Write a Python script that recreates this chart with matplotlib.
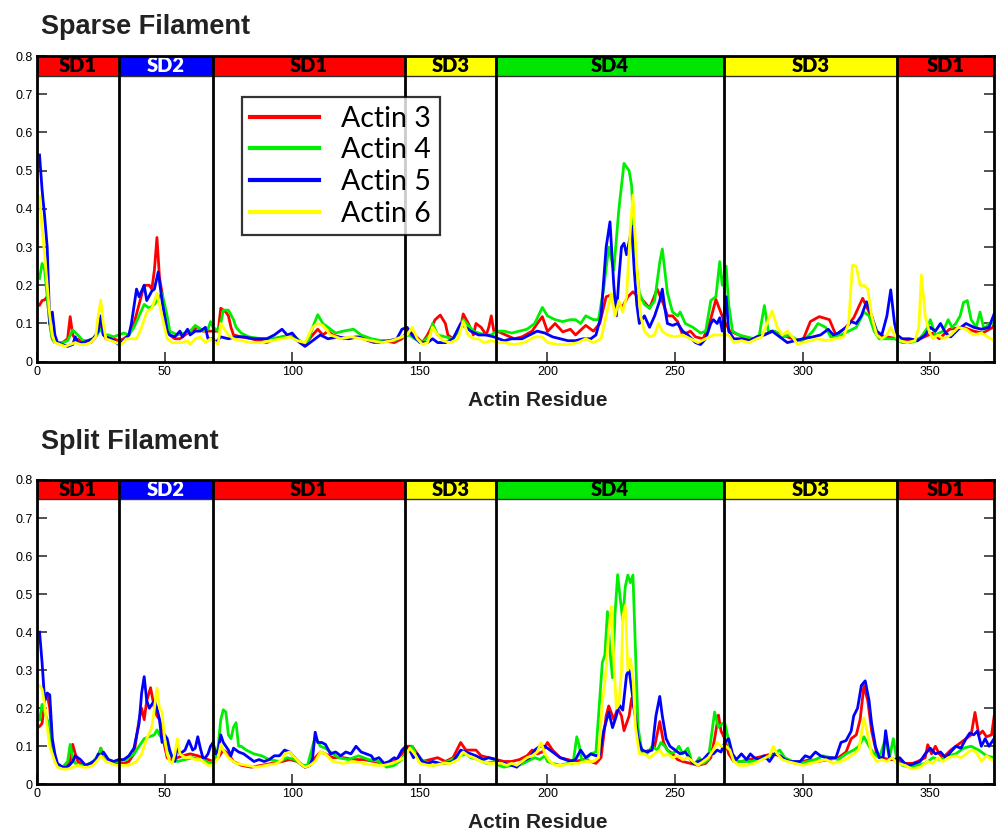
import matplotlib
matplotlib.use("Agg")
import matplotlib.pyplot as plt
from matplotlib.patches import Rectangle

# subdomain bands along the actin sequence
DOMAIN_NAMES = ["SD1", "SD2", "SD1", "SD3", "SD4", "SD3", "SD1"]
DOMAIN_EDGES = [0, 32, 69, 144, 180, 269, 337, 375]
DOMAIN_COLORS = ["#ff0000", "#0000ff", "#ff0000", "#ffff00", "#00e600", "#ffff00", "#ff0000"]
DOMAIN_TEXT = ["black", "white", "black", "black", "black", "black", "black"]

SERIES_NAMES = ["Actin 3", "Actin 4", "Actin 5", "Actin 6"]
SERIES_COLORS = ["#ff0000", "#00ee00", "#0000ff", "#ffff00"]

# (residue, value)
SPARSE_A3 = [(1, .148), (2, .16), (3, .162), (4, .17), (5, .10), (6, .06), (7, .05), (10, .05), (12, .06),
             (13, .118), (14, .07), (15, .06), (18, .055), (21, .05), (23, .065), (25, .09), (27, .06), (30, .06),
             (32, .055), (34, .06), (36, .07), (38, .10), (40, .15), (42, .20), (44, .20), (45, .19), (46, .24),
             (47, .325), (48, .22), (49, .18), (50, .12), (52, .07), (54, .06), (56, .06), (58, .07), (60, .08),
             (63, .09), (65, .08), (67, .08), (69, .08), (71, .08), (72, .14), (74, .13), (75, .12), (76, .09),
             (77, .07), (80, .065), (84, .06), (90, .05), (93, .06), (96, .065), (99, .07), (101, .06), (103, .05),
             (105, .045), (108, .07), (110, .085), (112, .07), (114, .08), (116, .07), (120, .06), (125, .065),
             (128, .06), (132, .05), (136, .055), (140, .05), (143, .06), (145, .08), (148, .07), (151, .05),
             (153, .07), (156, .11), (158, .122), (160, .10), (161, .07), (163, .06), (166, .09), (167, .125),
             (169, .10), (171, .07), (172, .10), (174, .09), (176, .07), (177, .09), (178, .12), (179, .08),
             (181, .078), (187, .06), (190, .065), (194, .08), (196, .10), (198, .118), (200, .079), (203, .10),
             (206, .078), (209, .085), (211, .07), (215, .095), (218, .08), (220.5, .10), (223, .17), (225, .175),
             (227, .15), (229.5, .145), (231.5, .17), (233.5, .183), (235.5, .17), (237.5, .16), (240, .14),
             (243, .19), (245.5, .15), (247, .12), (249, .12), (251, .105), (253, .07), (256, .08), (258, .065),
             (261, .06), (263.5, .10), (266, .163), (269, .11), (271.5, .08), (275, .07), (278, .06), (282, .06),
             (284.5, .07), (288.5, .08), (292, .07), (296, .06), (300, .055), (303, .105), (306.5, .118),
             (310.5, .11), (313, .07), (317, .09), (320, .115), (323.5, .166), (326, .13), (329, .07),
             (333, .065), (337, .06), (340.5, .055), (346, .06), (351, .075), (353.5, .06), (357.5, .085),
             (363, .09), (367, .08), (370.5, .075), (374.5, .09), (375, .10)]
SPARSE_A4 = [(1, .218), (2, .257), (3, .24), (4, .17), (5, .10), (6, .06), (7, .05), (10, .05), (12, .055),
             (14, .083), (16, .07), (18, .055), (20, .055), (23, .065), (25, .087), (26, .07), (28, .07),
             (30, .065), (32, .07), (34, .075), (36, .07), (38, .09), (40, .12), (42, .15), (44, .14), (46, .15),
             (48, .17), (49, .18), (51, .12), (52, .08), (55, .07), (58, .075), (60, .08), (62, .095), (65, .08),
             (67, .085), (68, .105), (69, .09), (71, .08), (72, .10), (73, .135), (75, .135), (77, .11), (78, .09),
             (80, .075), (83, .065), (88, .06), (92, .06), (96, .065), (100, .07), (104, .05), (106, .05),
             (108, .09), (110, .123), (112, .10), (114, .09), (117, .075), (120, .08), (124, .085), (127, .07),
             (131, .06), (135, .055), (140, .055), (143, .065), (146, .07), (148, .06), (151, .05), (154, .07),
             (155, .10), (157, .07), (160, .065), (163, .06), (165, .08), (167, .11), (169, .095), (171, .08),
             (173, .075), (176, .07), (178, .07), (180, .08), (183, .08), (186, .075), (189, .08), (192, .085),
             (195, .10), (198, .142), (200, .12), (203, .11), (206, .105), (209, .11), (211, .11), (213, .10),
             (215, .12), (218, .11), (220, .11), (222, .19), (224, .30), (226, .24), (228, .40), (230, .519),
             (232, .50), (233, .46), (234, .30), (236, .18), (238, .15), (240, .14), (242, .16), (244, .26),
             (245, .295), (247, .18), (249, .13), (251, .12), (252, .13), (254, .10), (257, .09), (260, .075),
             (262, .08), (264, .16), (266, .17), (267.5, .262), (268.5, .20), (270, .25), (271, .15),
             (272.5, .08), (275, .07), (278, .065), (281, .06), (283, .07), (285, .147), (286.5, .08), (289, .08),
             (292, .065), (295, .07), (298, .055), (301, .06), (304, .08), (306, .10), (309, .09), (311, .065),
             (315, .07), (318, .08), (321, .09), (324, .13), (326, .12), (328, .08), (330, .06), (333, .06),
             (336, .06), (339, .05), (342, .05), (345, .055), (347, .07), (349, .09), (350, .11), (352, .07),
             (355, .08), (357, .11), (358.5, .09), (360, .10), (361.7, .12), (363, .155), (364.5, .16),
             (366, .11), (368, .09), (369.5, .13), (371, .085), (373, .10), (375, .10)]
SPARSE_A5 = [(1, .541), (2, .45), (3, .38), (4, .30), (5, .10), (6, .13), (7, .07), (8, .05), (10, .045),
             (12, .04), (14, .045), (15, .065), (16, .05), (18, .05), (20, .055), (22, .06), (24, .08), (25, .12),
             (26, .07), (27, .065), (29, .06), (31, .05), (32, .045), (34, .055), (36, .07), (37, .10), (39, .19),
             (40, .17), (42, .20), (43, .16), (45, .185), (46, .19), (47.5, .235), (49, .16), (51, .08), (52, .07),
             (54, .065), (56, .08), (57, .065), (59, .085), (60, .07), (62, .08), (64, .08), (66, .09), (67, .06),
             (69, .06), (70, .05), (72, .065), (75, .06), (78, .065), (81, .065), (85, .06), (90, .06), (93, .07),
             (96, .085), (98, .07), (100, .075), (103, .05), (105, .04), (107, .05), (109, .06), (111, .07),
             (114, .06), (118, .065), (122, .06), (126, .065), (130, .055), (134, .05), (138, .055), (141, .06),
             (143, .085), (145, .09), (147, .07), (150, .05), (153, .05), (155, .06), (157, .05), (160, .05),
             (163, .06), (166, .10), (168, .09), (170, .08), (173, .07), (176, .07), (179, .065), (181, .06),
             (183, .055), (186, .06), (190, .06), (193, .07), (196, .08), (199, .075), (202, .065), (205, .06),
             (208, .055), (211, .055), (214, .06), (217, .06), (219, .07), (221, .12), (223, .30), (224.5, .366),
             (226, .20), (227, .12), (228, .22), (229, .30), (230, .31), (231, .28), (232.5, .33), (233, .355),
             (234, .24), (235, .15), (236, .10), (238, .12), (240, .09), (242, .12), (244, .16), (245, .19),
             (246, .14), (247, .10), (249, .095), (251, .10), (253, .08), (255, .07), (258, .05), (260, .045),
             (262, .06), (264, .10), (265, .11), (266.5, .10), (267.5, .115), (268.5, .08), (270, .17), (271, .08),
             (273, .06), (276, .06), (279, .055), (282, .065), (285, .07), (288, .08), (290, .07), (292, .06),
             (294, .05), (297, .055), (300, .06), (304, .065), (307, .07), (310, .085), (312, .07), (314, .075),
             (317, .09), (319, .105), (321, .10), (323, .12), (325, .157), (327, .12), (329, .08), (331, .07),
             (333, .12), (334.5, .188), (336, .10), (337, .07), (339, .06), (342, .06), (345, .055), (348, .07),
             (350, .09), (352, .08), (354, .10), (356, .075), (358, .065), (361, .085), (364, .10), (367, .09),
             (370, .085), (373, .09), (375, .125)]
SPARSE_A6 = [(1, .432), (2, .35), (3, .28), (4, .20), (5, .12), (6, .07), (7, .05), (9, .045), (11, .04),
             (13, .045), (15, .05), (17, .045), (19, .045), (21, .05), (23, .065), (24, .12), (25, .161),
             (26, .10), (27, .06), (29, .055), (31, .05), (33, .045), (35, .06), (37, .06), (39, .06), (41, .09),
             (43, .13), (45, .14), (47, .179), (48, .15), (49, .12), (50, .09), (51, .06), (53, .05), (55, .05),
             (57, .05), (59, .055), (60, .045), (62, .06), (64, .065), (66, .05), (68, .06), (70, .05), (71, .045),
             (72, .10), (73, .09), (75, .07), (77, .06), (80, .055), (84, .05), (88, .05), (92, .055), (96, .06),
             (99, .065), (102, .055), (105, .05), (108, .09), (110, .10), (112, .095), (115, .07), (119, .06),
             (123, .065), (127, .06), (131, .055), (135, .05), (139, .055), (143, .065), (145, .07), (147, .09),
             (149, .06), (151, .045), (153, .05), (155, .09), (157, .07), (159, .055), (162, .05), (165, .06),
             (167, .105), (169, .07), (171, .06), (173, .06), (175, .05), (178, .055), (181, .05), (183, .05),
             (187, .045), (191, .05), (195, .065), (198, .065), (200, .05), (204, .045), (208, .045), (212, .05),
             (215, .06), (218, .05), (221, .06), (223, .12), (225, .179), (226.5, .12), (228, .16), (229.5, .13),
             (231, .17), (232.5, .35), (233.5, .436), (235, .25), (236.5, .12), (238, .08), (240, .065),
             (242, .07), (243.5, .10), (245, .08), (247, .07), (250, .065), (253, .07), (256, .06), (259, .05),
             (262, .06), (265, .07), (268, .07), (271, .07), (273, .05), (276, .055), (279, .05), (282, .06),
             (284, .065), (286, .10), (288, .133), (290, .09), (292, .07), (294, .08), (296, .065), (298, .045),
             (300, .05), (303, .055), (306, .06), (309, .055), (313, .06), (316, .065), (318, .10), (319.5, .253),
             (321, .25), (322.5, .20), (324, .20), (325.5, .19), (327, .12), (329, .07), (331, .06), (333, .07),
             (334.5, .09), (336, .07), (338, .055), (341, .05), (344, .055), (345.5, .09), (346.5, .227),
             (348, .12), (349.5, .08), (351, .06), (353, .07), (355, .06), (358, .07), (361, .09), (364, .085),
             (367, .07), (370, .075), (372.5, .065), (375, .055)]

# (residue, value)
SPLIT_A3 = [(1, .152), (2, .16), (3, .22), (4, .235), (5, .20), (6, .10), (7, .07), (8, .05), (10, .045),
            (12, .05), (13, .06), (14, .105), (15, .08), (16, .06), (18, .05), (20, .05), (22, .055), (24, .07),
            (25, .095), (26, .07), (28, .06), (30, .055), (32, .055), (34, .055), (36, .06), (38, .08), (40, .17),
            (41, .20), (42, .17), (43, .22), (44.5, .254), (46, .20), (47, .18), (48, .17), (49, .15), (50, .10),
            (51, .07), (53, .06), (55, .07), (57, .075), (60, .08), (63, .075), (65, .07), (67, .065), (69, .06),
            (71, .07), (73, .09), (75, .08), (77, .06), (80, .05), (84, .045), (88, .05), (92, .055), (96, .06),
            (99, .065), (102, .06), (105, .045), (107, .05), (109, .07), (111, .085), (113, .08), (116, .07),
            (120, .07), (124, .065), (128, .065), (132, .06), (136, .055), (140, .06), (143, .08), (145, .10),
            (147, .10), (149, .08), (151, .06), (154, .065), (157, .07), (160, .06), (163, .07), (166, .11),
            (168, .09), (170, .09), (172, .09), (174, .075), (177, .07), (180, .065), (183, .06), (186, .06),
            (189, .065), (192, .075), (194, .09), (196, .08), (198, .085), (200, .11), (202, .09), (205, .07),
            (208, .065), (211, .06), (214, .065), (217, .06), (219, .055), (221, .07), (223, .18), (224, .206),
            (226, .17), (227.5, .20), (229, .18), (230, .141), (232, .18), (233, .226), (234.5, .18), (236, .10),
            (238, .085), (240, .09), (242, .10), (244, .165), (245.5, .11), (247, .09), (249, .08), (251, .065),
            (253, .06), (256, .055), (259, .05), (262, .055), (264, .07), (265.5, .12), (267, .182), (268, .14),
            (269.5, .12), (271, .08), (273, .06), (276, .06), (279, .065), (282, .07), (285, .075), (288, .08),
            (291, .075), (294, .065), (297, .055), (300, .06), (303, .065), (306, .06), (310, .065), (314, .07),
            (317, .085), (319, .12), (321, .13), (322.5, .17), (324, .259), (325.5, .22), (327, .14), (329, .08),
            (331, .07), (334, .065), (337, .065), (340, .055), (343, .055), (345, .06), (348, .07), (349, .104),
            (350.5, .08), (352, .10), (353.5, .08), (355, .07), (358, .09), (360, .10), (362, .11), (364, .12),
            (366, .13), (367.5, .189), (369, .13), (370.5, .14), (372, .125), (374, .13), (375, .178)]
SPLIT_A4 = [(1, .17), (2, .21), (3, .19), (4, .17), (5, .15), (6, .10), (7, .06), (8, .05), (10, .045),
            (12, .06), (13, .105), (14, .07), (15, .055), (17, .05), (19, .05), (22, .06), (24, .075), (25, .095),
            (26, .07), (28, .065), (30, .06), (32, .06), (35, .065), (38, .08), (40, .10), (42, .12), (44, .125),
            (46, .13), (47, .143), (48, .13), (49, .12), (51, .10), (53, .07), (55, .06), (58, .065), (61, .07),
            (64, .065), (66, .06), (68, .055), (70, .07), (71, .10), (72, .17), (73, .196), (74, .19), (75, .13),
            (76, .12), (77, .15), (78, .162), (79, .10), (80, .10), (82, .09), (85, .08), (88, .075), (91, .065),
            (95, .06), (98, .07), (101, .065), (104, .05), (106, .05), (108, .10), (109, .125), (111, .10),
            (113, .095), (115, .085), (118, .07), (122, .065), (126, .075), (130, .065), (134, .06), (137, .045),
            (140, .05), (143, .065), (145, .09), (147, .10), (149, .07), (152, .06), (155, .05), (158, .055),
            (161, .06), (164, .07), (166, .075), (168, .08), (170, .07), (173, .065), (176, .055), (179, .06),
            (181, .05), (183, .045), (186, .05), (189, .05), (192, .06), (195, .07), (197, .065), (199, .075),
            (200, .06), (202, .055), (205, .05), (208, .055), (210, .055), (211.5, .125), (212.5, .10),
            (213.5, .06), (215, .065), (217, .08), (219, .085), (220, .18), (221.5, .32), (222.5, .34),
            (223.5, .454), (224.5, .35), (225.5, .28), (226.5, .45), (227.5, .551), (228.5, .49), (229.5, .432),
            (230.5, .52), (231.5, .55), (232.5, .53), (233.5, .55), (234.5, .35), (235.5, .15), (237, .085),
            (239, .08), (241, .10), (243, .09), (244.5, .11), (246, .10), (248, .08), (250, .085), (251.5, .10),
            (253, .08), (255, .095), (256.5, .06), (258, .055), (259.5, .07), (261, .055), (263, .065),
            (265.5, .19), (267, .15), (268.5, .16), (269.5, .16), (270.5, .13), (272, .08), (274, .06), (277, .06),
            (280, .06), (283, .065), (286, .07), (288, .075), (291, .09), (293, .07), (296, .06), (299, .055),
            (302, .06), (305, .065), (308, .075), (311, .07), (314, .065), (317, .08), (320, .09), (322, .10),
            (324, .125), (326, .10), (328, .08), (330, .07), (332.5, .12), (334, .07), (335.5, .12), (337, .06),
            (339, .05), (342, .045), (345, .05), (348, .055), (351, .07), (354, .065), (357, .075), (360, .08),
            (363, .095), (366, .10), (369, .09), (372, .075), (375, .07)]
SPLIT_A5 = [(1, .40), (2, .32), (3, .22), (4, .24), (5, .235), (6, .12), (7, .08), (8, .055), (10, .045),
            (12, .045), (14, .06), (15, .075), (17, .065), (19, .05), (21, .055), (23, .065), (24, .08), (25, .075),
            (26, .085), (28, .065), (30, .06), (32, .065), (34, .065), (36, .075), (38, .095), (40, .16),
            (41, .24), (42, .283), (43, .22), (44, .20), (45, .21), (46, .22), (47, .20), (48, .17), (49, .11),
            (50, .13), (51, .12), (52, .09), (53, .07), (54, .06), (55, .10), (56, .08), (58, .09), (59.5, .115),
            (61, .09), (62, .095), (63, .125), (64, .095), (65, .07), (66, .07), (67, .08), (68, .10), (69, .11),
            (70, .08), (71, .09), (72, .13), (73, .11), (74, .10), (75, .09), (76, .075), (77, .095), (78, .09),
            (79, .085), (81, .08), (83, .07), (85, .06), (87, .065), (89, .06), (91, .065), (93, .075), (95, .075),
            (97, .09), (99, .085), (101, .07), (103, .055), (105, .045), (107, .05), (108, .07), (109, .137),
            (110, .11), (111.5, .11), (113, .105), (115, .08), (117, .085), (119, .075), (121, .085), (123, .08),
            (125, .10), (127, .085), (129, .08), (131, .075), (132, .065), (134, .07), (136, .055), (138, .06),
            (140, .07), (141, .065), (143, .09), (144.5, .10), (146, .09), (147.5, .07), (149, .08), (151, .06),
            (153, .055), (155, .06), (158, .055), (160, .055), (163, .06), (166, .09), (168, .085), (170, .08),
            (172, .075), (175, .065), (177, .07), (180, .065), (181, .055), (183, .055), (186, .05), (188, .045),
            (190, .06), (193, .07), (195, .09), (197, .10), (199, .10), (201, .09), (203, .08), (205, .07),
            (207, .065), (209, .06), (211, .065), (213, .09), (215, .07), (217, .08), (219, .075), (220.5, .08),
            (222, .14), (224, .19), (225.5, .149), (227, .18), (228, .21), (229.5, .195), (231, .288), (232, .30),
            (233, .25), (234, .20), (235.5, .12), (237, .09), (239, .085), (241, .09), (242.5, .18), (244, .231),
            (245, .18), (246.5, .12), (248, .10), (250, .09), (252, .08), (254, .085), (255.5, .07), (257, .055),
            (259, .06), (261, .065), (263, .08), (265, .08), (266.5, .09), (268, .085), (269.5, .11), (271, .12),
            (272.5, .08), (274, .065), (276, .08), (278, .065), (279.5, .08), (281, .07), (283, .065), (285, .075),
            (287, .06), (289, .08), (291, .075), (293, .065), (295, .06), (297, .06), (299, .06), (301, .075),
            (303, .07), (305, .085), (307, .075), (309, .07), (311, .07), (313, .07), (315, .11), (317, .115),
            (319, .14), (320, .18), (321.5, .20), (323, .26), (324.5, .272), (326, .22), (327, .16), (328.5, .10),
            (330, .07), (331.5, .07), (332.5, .141), (334, .07), (336, .065), (338, .07), (340, .055), (342, .05),
            (344, .055), (346, .06), (348, .08), (350, .095), (352, .08), (354, .085), (356, .07), (358, .085),
            (360, .10), (362, .095), (364, .12), (365.5, .135), (367, .13), (368.5, .14), (370, .10), (371.5, .12),
            (373, .10), (375, .12)]
SPLIT_A6 = [(1, .259), (2, .25), (3, .21), (4, .15), (5, .10), (6, .08), (7, .06), (8, .045), (10, .04),
            (12, .04), (14, .045), (16, .05), (18, .045), (20, .045), (22, .05), (24, .065), (25, .075), (27, .06),
            (29, .055), (31, .05), (33, .05), (36, .05), (39, .06), (41, .08), (43, .12), (45, .15), (46, .20),
            (47, .253), (48, .20), (49, .19), (50, .12), (51, .08), (52, .06), (53, .055), (54, .08), (55, .12),
            (56, .08), (58, .07), (60, .07), (62, .065), (64, .065), (66, .055), (67, .05), (69, .05), (71, .07),
            (72, .105), (73, .09), (75, .07), (78, .055), (82, .05), (86, .045), (90, .05), (94, .055), (96, .065),
            (97, .08), (99, .085), (101, .07), (103, .055), (105, .045), (107, .05), (109, .06), (111, .085),
            (113, .08), (116, .06), (120, .055), (124, .06), (128, .055), (132, .05), (136, .05), (139, .055),
            (141, .06), (144, .07), (146, .095), (148, .08), (150, .055), (153, .05), (156, .05), (159, .055),
            (162, .055), (165, .065), (167, .085), (169, .075), (171, .07), (174, .06), (177, .055), (180, .055),
            (182, .055), (184, .05), (186, .055), (188, .05), (190, .06), (192, .07), (194, .075), (196, .085),
            (197.5, .11), (199, .08), (201, .06), (203, .05), (206, .05), (209, .055), (212, .055), (215, .06),
            (218, .06), (220, .07), (221.5, .213), (223, .30), (224, .40), (225, .467), (226, .33), (227, .20),
            (228, .21), (229, .30), (229.5, .44), (230.5, .47), (231.5, .30), (232.5, .33), (233.5, .28),
            (234.5, .15), (236, .08), (238, .08), (240, .07), (242, .08), (244, .09), (245.5, .075), (247, .08),
            (249, .07), (251, .075), (253, .065), (255, .07), (257, .06), (259, .05), (261, .06), (263, .07),
            (265, .09), (266.5, .11), (268, .10), (270, .10), (271.5, .09), (273, .06), (275, .05), (278, .05),
            (281, .055), (284, .065), (287, .075), (288.5, .10), (290, .08), (292, .065), (294, .06), (297, .055),
            (300, .05), (303, .055), (306, .06), (309, .065), (312, .055), (315, .06), (318, .07), (320, .08),
            (322, .09), (324, .174), (325.5, .13), (327, .08), (329, .06), (331, .065), (333, .06), (335, .07),
            (337, .055), (340, .05), (343, .04), (346, .045), (349, .06), (351, .055), (353, .07), (355, .06),
            (357, .07), (360, .075), (362, .07), (364, .08), (366, .09), (368, .085), (370, .06), (372, .075),
            (375, .06)]

PANELS = [("Sparse Filament", [SPARSE_A3, SPARSE_A4, SPARSE_A5, SPARSE_A6]),
          ("Split Filament", [SPLIT_A3, SPLIT_A4, SPLIT_A5, SPLIT_A6])]

TICK_FONT = "Liberation Sans"
BAND_FONT = "Lato"


def draw_panel(ax, series, with_legend):
    for pts, name, col in zip(series, SERIES_NAMES, SERIES_COLORS):
        xs = [p[0] for p in pts]
        ys = [p[1] for p in pts]
        ax.plot(xs, ys, color=col, lw=2.0, label=name, zorder=3)

    for i, name in enumerate(DOMAIN_NAMES):
        x0, x1 = DOMAIN_EDGES[i], DOMAIN_EDGES[i + 1]
        ax.add_patch(Rectangle((x0, 0.749), x1 - x0, 0.051, facecolor=DOMAIN_COLORS[i],
                               edgecolor="#333333", lw=1.0, zorder=4))
        ax.text((x0 + x1) / 2, 0.7745, name, ha="center", va="center", color=DOMAIN_TEXT[i],
                fontsize=14.5, fontweight="heavy", family=BAND_FONT, zorder=5)
    for x in DOMAIN_EDGES[1:-1]:
        ax.axvline(x, color="black", lw=2.0, zorder=6)

    ax.set_xlim(0, 375)
    ax.set_ylim(0, 0.8)
    ax.set_xticks(range(0, 400, 50))
    ax.set_yticks([i / 10 for i in range(9)])
    ax.set_yticklabels(["0"] + [f"{i / 10:.1f}" for i in range(1, 9)])
    ax.tick_params(direction="in", length=7, width=1.2, right=True, top=False,
                   labelsize=9, pad=3, colors="#333333", labelcolor="black")
    for lab in ax.get_xticklabels() + ax.get_yticklabels():
        lab.set_family(TICK_FONT)
    for sp in ax.spines.values():
        sp.set_linewidth(2.0)
        sp.set_zorder(7)

    if with_legend:
        leg = ax.legend(loc="upper left", bbox_to_anchor=(0.214, 0.866), borderaxespad=0,
                        frameon=True, fancybox=False, handlelength=2.4, handletextpad=0.8,
                        borderpad=0.3, labelspacing=0.2, prop={"family": BAND_FONT, "size": 20.5})
        leg.get_frame().set_edgecolor("black")
        leg.get_frame().set_linewidth(1.6)
        leg.set_zorder(8)
        for line in leg.get_lines():
            line.set_linewidth(3.0)


fig = plt.figure(figsize=(9.97, 8.40), dpi=100)
ax_top = fig.add_axes([0.0371, 0.5694, 0.960, 0.3639])
ax_bot = fig.add_axes([0.0371, 0.0663, 0.960, 0.3623])

for ax, (title, series), legend_on in zip([ax_top, ax_bot], PANELS, [True, False]):
    draw_panel(ax, series, legend_on)

fig.text(0.041, 0.959, "Sparse Filament", fontsize=19.5, fontweight="bold", family=TICK_FONT,
         color="#222222", va="baseline")
fig.text(0.041, 0.466, "Split Filament", fontsize=19.5, fontweight="bold", family=TICK_FONT,
         color="#222222", va="baseline")
fig.text(0.539, 0.523, "Actin Residue", fontsize=15, fontweight="bold", family=TICK_FONT,
         color="#222222", ha="center", va="center")
fig.text(0.539, 0.021, "Actin Residue", fontsize=15, fontweight="bold", family=TICK_FONT,
         color="#222222", ha="center", va="center")

fig.savefig("out.png", dpi=100)
